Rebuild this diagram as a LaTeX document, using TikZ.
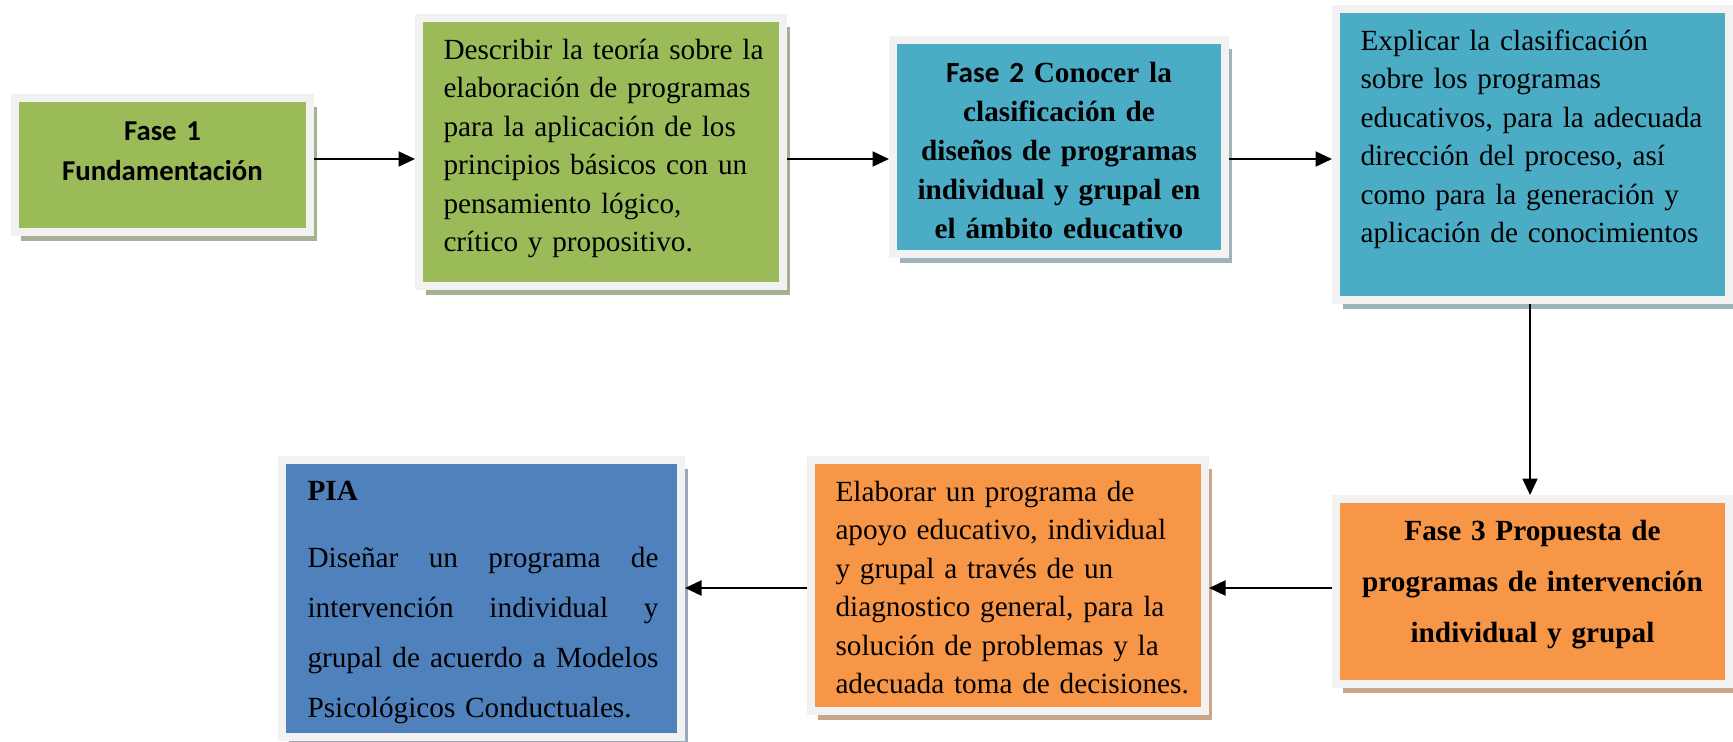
\documentclass[tikz,border=0pt]{standalone}
\usepackage{fontspec}
\setmainfont{Liberation Serif}
\newfontfamily\calfont{Carlito}
\usetikzlibrary{arrows.meta,shadows}

\definecolor{verde}{HTML}{9BBB59}
\definecolor{turquesa}{HTML}{4BACC6}
\definecolor{naranja}{HTML}{F79646}
\definecolor{azul}{HTML}{4F81BD}
\definecolor{marco}{HTML}{F2F2F2}
\definecolor{sombraverde}{HTML}{A4B293}
\definecolor{sombraturquesa}{HTML}{9DB4BB}
\definecolor{sombranaranja}{HTML}{C9A68A}
\definecolor{sombraazul}{HTML}{9AA7BF}

\tikzset{
  caja/.style 2 args={rectangle, draw=marco, line width=3.2pt, fill=#1, inner sep=0pt,
    general shadow={fill=#2, shadow xshift=2.6pt, shadow yshift=-3.6pt}},
  texto/.style={inner sep=0pt, font=\fontsize{11.7pt}{15.4pt}\selectfont},
  flecha/.style={line width=0.85pt, -{Triangle[length=6.6pt,width=6pt]}},
}
\newcommand{\linea}[1]{\leavevmode\makebox[140.4pt][s]{#1}}

\begin{document}
\begin{tikzpicture}[x=0.4pt, y=-0.4pt]
\useasboundingbox (0,0) rectangle (1733,741);

% cajas
\node[caja={verde}{sombraverde}, minimum width=118pt, minimum height=53.6pt] (b1) at (162.5,165) {};
\node[caja={verde}{sombraverde}, minimum width=145.6pt, minimum height=107.2pt] (b2) at (601,152) {};
\node[caja={turquesa}{sombraturquesa}, minimum width=132.8pt, minimum height=85.6pt] (b3) at (1059,147) {};
\node[caja={turquesa}{sombraturquesa}, minimum width=157.2pt, minimum height=116.4pt] (b4) at (1532.5,154.5) {};
\node[caja={naranja}{sombranaranja}, minimum width=157.2pt, minimum height=74pt] (b5) at (1532.5,591.5) {};
\node[caja={naranja}{sombranaranja}, minimum width=157.6pt, minimum height=100.4pt] (b6) at (1008,585.5) {};
\node[caja={azul}{sombraazul}, minimum width=159.6pt, minimum height=110.8pt] (b7) at (481.5,598.5) {};

% textos
\node[texto, text width=118pt, align=center, anchor=base,
  font=\calfont\bfseries\fontsize{11.5pt}{16pt}\selectfont] (t1) at (162.5,140)
  {Fase 1\\Fundamentación};
\node[texto, text width=140pt, align=left, anchor=base west] (t2) at (443,59)
  {Describir la teoría sobre la\\elaboración de programas\\para la aplicación de los\\principios básicos con un\\pensamiento lógico,\\crítico y propositivo.};
\node[texto, text width=130pt, align=center, anchor=base,
  font=\bfseries\fontsize{11.7pt}{15.6pt}\selectfont] (t3) at (1059,82)
  {{\calfont Fase 2} Conocer la\\clasificación de\\diseños de programas\\individual y grupal en\\el ámbito educativo};
\node[texto, text width=150pt, align=left, anchor=base west] (t4) at (1360,50)
  {Explicar la clasificación\\sobre los programas\\educativos, para la adecuada\\dirección del proceso, así\\como para la generación y\\aplicación de conocimientos};
\node[texto, text width=156pt, align=center, anchor=base,
  font=\bfseries\fontsize{11.7pt}{20.4pt}\selectfont] (t5) at (1532.5,540)
  {Fase 3 Propuesta de\\programas de intervención\\individual y grupal};
\node[texto, text width=152pt, align=left, anchor=base west] (t6) at (835,501)
  {Elaborar un programa de\\apoyo educativo, individual\\y grupal a través de un\\diagnostico general, para la\\solución de problemas y la\\adecuada toma de decisiones.};
\node[texto, text width=141pt, align=left, anchor=base west,
  font=\fontsize{11.7pt}{20pt}\selectfont] (t7) at (307,500)
  {\textbf{PIA}\\[6.8pt]
   \linea{Diseñar\hfill un\hfill programa\hfill de}\\
   \linea{intervención\hfill individual\hfill y}\\
   \linea{grupal\hfill de\hfill acuerdo\hfill a\hfill Modelos}\\
   Psicológicos Conductuales.};

% flechas
\coordinate (arriba) at (0,159);
\coordinate (abajo) at (0,588);
\draw[flecha] (b1.east |- arriba) -- (b2.west |- arriba);
\draw[flecha] (b2.east |- arriba) -- (b3.west |- arriba);
\draw[flecha] (b3.east |- arriba) -- (b4.west |- arriba);
\draw[flecha] ([xshift=-1pt]b4.south) -- ([xshift=-1pt]b5.north);
\draw[flecha] (b5.west |- abajo) -- (b6.east |- abajo);
\draw[flecha] (b6.west |- abajo) -- (b7.east |- abajo);
\end{tikzpicture}
\end{document}
